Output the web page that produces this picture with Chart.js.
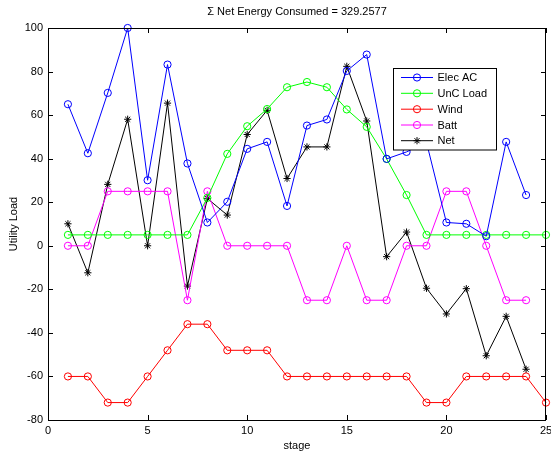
<!DOCTYPE html>
<html>
<head>
<meta charset="utf-8">
<script src="https://cdn.jsdelivr.net/npm/chart.js@4/dist/chart.umd.min.js"></script>
<style>
  html, body { margin: 0; padding: 0; background: #fff; }
  #wrap { width: 551px; height: 453px; }
</style>
</head>
<body>
<div id="wrap"><canvas id="c" width="551" height="453"></canvas></div>
<script>
// Stage-by-stage utility load components
const stages = [1, 2, 3, 4, 5, 6, 7, 8, 9, 10, 11, 12, 13, 14, 15, 16, 17, 18, 19, 20, 21, 22, 23, 24, 25];
const elecAC = [65, 42.5, 70.2, 100, 30.1, 83.2, 37.8, 10.7, 20.2, 44.5, 47.7, 18.3, 55.2, 58, 80.3, 87.8, 39.9, 43.1, 47.5, 10.7, 10.1, 4.4, 47.7, 23.3];
const uncLoad = [5, 5, 5, 5, 5, 5, 5, 22, 42.2, 54.9, 62.8, 72.8, 75.2, 72.8, 62.6, 54.6, 39.9, 23.3, 5, 5, 5, 5, 5, 5, 5];
const wind = [-60, -60, -72, -72, -60, -48, -36, -36, -48, -48, -48, -60, -60, -60, -60, -60, -60, -60, -72, -72, -60, -60, -60, -60, -72];
const batt = [0, 0, 25, 25, 25, 25, -25, 25, 0, 0, 0, 0, -25, -25, 0, -25, -25, 0, 0, 25, 25, 0, -25, -25];
const net = [10.1, -12.4, 28.2, 58.1, 0, 65.5, -18.5, 21.7, 14.1, 51.1, 62.2, 30.9, 45.4, 45.4, 82.4, 57.3, -5, 6.3, -19.5, -31.3, -19.7, -50.5, -32.4, -56.7];

const xTicks = [0, 5, 10, 15, 20, 25];
const yTicks = [-80, -60, -40, -20, 0, 20, 40, 60, 80, 100];
const titleText = '\u03A3 Net Energy Consumed = 329.2577';
const xTitle = 'stage';
const yTitle = 'Utility Load';

const FONT = "'Liberation Sans', Arial, Helvetica, sans-serif";

function pts(values) {
  return values.map((v, i) => ({ x: stages[i], y: v }));
}

function series(label, values, color, style) {
  return {
    label: label,
    data: pts(values),
    borderColor: color,
    backgroundColor: 'rgba(0,0,0,0)',
    borderWidth: 1,
    pointStyle: style,
    pointRadius: 3.6,
    pointBorderWidth: 1,
    pointBorderColor: color,
    pointBackgroundColor: 'rgba(0,0,0,0)',
    pointHoverRadius: 3.6,
    tension: 0,
    fill: false,
    clip: false
  };
}

const datasets = [
  series('Elec AC', elecAC, '#0000ff', 'circle'),
  series('UnC Load', uncLoad, '#00ff00', 'circle'),
  series('Wind', wind, '#ff0000', 'circle'),
  series('Batt', batt, '#ff00ff', 'circle'),
  series('Net', net, '#000000', 'star')
];

// Axes box with inward ticks, title and boxed legend
const framePlugin = {
  id: 'frame',
  beforeDraw(chart) {
    const ctx = chart.ctx;
    ctx.save();
    ctx.fillStyle = '#fff';
    ctx.fillRect(0, 0, chart.width, chart.height);
    ctx.restore();
  },
  afterDraw(chart) {
    const ctx = chart.ctx;
    const a = chart.chartArea;
    const xs = chart.scales.x, ys = chart.scales.y;
    const L = 5;
    ctx.save();
    ctx.strokeStyle = '#000';
    ctx.lineWidth = 1;
    ctx.beginPath();
    xTicks.forEach(v => {
      const px = Math.round(xs.getPixelForValue(v)) + 0.5;
      ctx.moveTo(px, a.bottom); ctx.lineTo(px, a.bottom - L);
      ctx.moveTo(px, a.top); ctx.lineTo(px, a.top + L);
    });
    yTicks.forEach(v => {
      const py = Math.round(ys.getPixelForValue(v)) + 0.5;
      ctx.moveTo(a.left, py); ctx.lineTo(a.left + L, py);
      ctx.moveTo(a.right, py); ctx.lineTo(a.right - L, py);
    });
    ctx.stroke();
    ctx.strokeRect(Math.round(a.left) + 0.5, Math.round(a.top) + 0.5,
                   Math.round(a.right - a.left) - 1, Math.round(a.bottom - a.top));

    // title
    ctx.fillStyle = '#000';
    ctx.font = '11px ' + FONT;
    ctx.textAlign = 'center';
    ctx.textBaseline = 'middle';
    ctx.fillText(titleText, (a.left + a.right) / 2, 12);

    // legend
    const lx = 393.5, ly = 68.5, lw = 103, lh = 81.5;
    ctx.fillStyle = '#fff';
    ctx.fillRect(lx, ly, lw, lh);
    ctx.strokeStyle = '#000';
    ctx.strokeRect(lx, ly, lw, lh);
    const rowY = [77.5, 93.3, 109.2, 125, 140.7];
    chart.data.datasets.forEach((ds, i) => {
      const y = rowY[i];
      ctx.strokeStyle = ds.borderColor;
      ctx.lineWidth = 1;
      ctx.beginPath();
      ctx.moveTo(401, y); ctx.lineTo(433, y);
      ctx.stroke();
      ctx.fillStyle = 'rgba(0,0,0,0)';
      ctx.strokeStyle = ds.borderColor;
      Chart.helpers.drawPoint(ctx, {
        pointStyle: ds.pointStyle, radius: 3.6, borderWidth: 1, rotation: 0
      }, 417, y);
      ctx.fillStyle = '#000';
      ctx.textAlign = 'left';
      ctx.textBaseline = 'middle';
      ctx.fillText(ds.label, 437.5, y + 0.5);
    });
    ctx.restore();
  }
};

new Chart(document.getElementById('c'), {
  type: 'line',
  data: { datasets: datasets },
  plugins: [framePlugin],
  options: {
    responsive: false,
    devicePixelRatio: 1,
    animation: false,
    events: [],
    layout: { padding: { top: 28, right: 5, left: 0, bottom: 0 } },
    plugins: {
      legend: { display: false },
      title: { display: false },
      tooltip: { enabled: false }
    },
    scales: {
      x: {
        type: 'linear',
        min: 0, max: 25,
        afterBuildTicks: s => { s.ticks = xTicks.map(v => ({ value: v })); },
        afterFit: s => { s.height = 33; s.paddingLeft = 0; s.paddingRight = 0; },
        grid: { display: false, drawTicks: false },
        border: { display: false },
        ticks: { color: '#000', font: { size: 11, family: FONT }, padding: 4, maxRotation: 0, autoSkip: false },
        title: { display: true, text: xTitle, color: '#000', font: { size: 11, family: FONT }, padding: { top: 3, bottom: 0 } }
      },
      y: {
        type: 'linear',
        min: -80, max: 100,
        afterBuildTicks: s => { s.ticks = yTicks.map(v => ({ value: v })); },
        afterFit: s => { s.width = 48; s.paddingTop = 0; s.paddingBottom = 0; },
        grid: { display: false, drawTicks: false },
        border: { display: false },
        ticks: { color: '#000', font: { size: 11, family: FONT }, padding: 5, autoSkip: false },
        title: { display: true, text: yTitle, color: '#000', font: { size: 11, family: FONT }, padding: { top: 7, bottom: 0 } }
      }
    }
  }
});
</script>
</body>
</html>
